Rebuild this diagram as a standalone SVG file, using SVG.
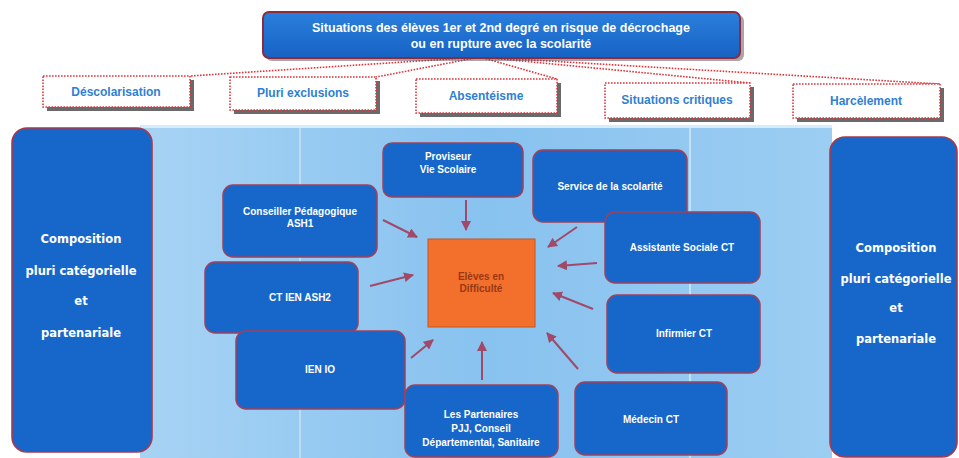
<svg xmlns="http://www.w3.org/2000/svg" width="959" height="458" viewBox="0 0 959 458">
<defs>
<linearGradient id="panel" x1="0" y1="0" x2="1" y2="0">
<stop offset="0" stop-color="#a7d3f4"/>
<stop offset="0.5" stop-color="#88c2ef"/>
<stop offset="1" stop-color="#9ccdf2"/>
</linearGradient>
<linearGradient id="titleg" x1="0" y1="0" x2="0" y2="1">
<stop offset="0" stop-color="#2b7fdc"/>
<stop offset="1" stop-color="#1662c4"/>
</linearGradient>
<marker id="arr" viewBox="0 0 10 10" refX="9" refY="5" markerWidth="5" markerHeight="5" orient="auto">
<path d="M0,0 L10,5 L0,10 z" fill="#a24868"/>
</marker>
<style>
.node{fill:#1766c9;stroke:#a0405a;stroke-width:1.5}
.side{fill:#1767cb;stroke:#a83a4c;stroke-width:1.6}
.cat{fill:#ffffff;stroke:#e0343a;stroke-width:1.6;stroke-dasharray:1.6 1.4}
.shadow{fill:#6a6a6a}
.ntxt{font-family:"Liberation Sans",Arial,sans-serif;font-weight:bold;font-size:10px;fill:#ffffff;text-anchor:middle}
.otxt{font-family:"Liberation Sans",Arial,sans-serif;font-weight:bold;font-size:10px;fill:#9a3814;text-anchor:middle}
.ctxt{font-family:"Liberation Sans",Arial,sans-serif;font-weight:bold;font-size:12px;fill:#2f7fd2;text-anchor:middle}
.stxt{font-family:"DejaVu Sans",Verdana,sans-serif;font-weight:bold;font-size:11.5px;fill:#ffffff;text-anchor:middle}
.ttxt{font-family:"Liberation Sans",Arial,sans-serif;font-weight:bold;font-size:12.5px;fill:#ffffff;text-anchor:middle}
.dot{stroke:#e0343a;stroke-width:1.6;stroke-dasharray:1.6 1.4;fill:none}
.arrow{stroke:#a24868;stroke-width:2;fill:none;marker-end:url(#arr)}
</style>
</defs>
<rect x="0" y="0" width="959" height="458" fill="#ffffff"/>
<rect x="140" y="125" width="692" height="333" fill="url(#panel)"/>
<rect x="140" y="125" width="692" height="3" fill="#d4ecfb"/>
<rect x="299" y="128" width="2" height="330" fill="#ffffff" opacity="0.35"/>
<rect x="689" y="128" width="2" height="330" fill="#ffffff" opacity="0.45"/>

<g id="connectors">
<line class="dot" x1="480" y1="57" x2="190" y2="76"/>
<line class="dot" x1="480" y1="57" x2="376" y2="77"/>
<line class="dot" x1="480" y1="57" x2="557" y2="79"/>
<line class="dot" x1="480" y1="57" x2="750" y2="83"/>
<line class="dot" x1="480" y1="57" x2="940" y2="84"/>
<line class="arrow" x1="466" y1="200" x2="466" y2="230"/>
<line class="arrow" x1="383" y1="220" x2="417" y2="237"/>
<line class="arrow" x1="370" y1="286" x2="413" y2="275"/>
<line class="arrow" x1="577" y1="227" x2="548" y2="247"/>
<line class="arrow" x1="597" y1="263" x2="558" y2="266"/>
<line class="arrow" x1="593" y1="309" x2="553" y2="293"/>
<line class="arrow" x1="578" y1="369" x2="547" y2="333"/>
<line class="arrow" x1="482" y1="380" x2="482" y2="342"/>
<line class="arrow" x1="411" y1="358" x2="433" y2="340"/>
</g>

<g id="title">
<rect x="266" y="15" width="478" height="46" rx="6" fill="#5a4a55" opacity="0.5"/>
<rect x="263" y="12" width="477" height="46" rx="6" fill="url(#titleg)" stroke="#8a2c3e" stroke-width="2"/>
<text class="ttxt" x="501" y="32">Situations des élèves 1er et 2nd degré en risque de décrochage</text>
<text class="ttxt" x="501" y="48">ou en rupture avec la scolarité</text>
</g>

<g id="cat-descolarisation">
<rect class="shadow" x="47" y="80" width="147" height="31"/>
<rect class="cat" x="43" y="76" width="147" height="31"/>
<text class="ctxt" x="116" y="96">Déscolarisation</text>
</g>
<g id="cat-pluri">
<rect class="shadow" x="234" y="81" width="146" height="33"/>
<rect class="cat" x="230" y="77" width="146" height="33"/>
<text class="ctxt" x="303" y="97">Pluri exclusions</text>
</g>
<g id="cat-absenteisme">
<rect class="shadow" x="420" y="83" width="141" height="34"/>
<rect class="cat" x="416" y="79" width="141" height="34"/>
<text class="ctxt" x="486" y="100">Absentéisme</text>
</g>
<g id="cat-situations">
<rect class="shadow" x="609" y="87" width="145" height="35"/>
<rect class="cat" x="605" y="83" width="145" height="35"/>
<text class="ctxt" x="677" y="104">Situations critiques</text>
</g>
<g id="cat-harcelement">
<rect class="shadow" x="797" y="88" width="147" height="34"/>
<rect class="cat" x="793" y="84" width="147" height="34"/>
<text class="ctxt" x="866" y="105">Harcèlement</text>
</g>

<g id="left-composition">
<rect class="side" x="12" y="128" width="140" height="324" rx="15"/>
<text class="stxt" x="81" y="243">Composition</text>
<text class="stxt" x="81" y="275">pluri catégorielle</text>
<text class="stxt" x="81" y="305">et</text>
<text class="stxt" x="81" y="337">partenariale</text>
</g>
<g id="right-composition">
<rect class="side" x="830" y="137" width="127" height="320" rx="15"/>
<text class="stxt" x="896" y="252">Composition</text>
<text class="stxt" x="896" y="283">pluri catégorielle</text>
<text class="stxt" x="896" y="312">et</text>
<text class="stxt" x="896" y="343">partenariale</text>
</g>

<g id="proviseur">
<rect class="node" x="383" y="143" width="140" height="54" rx="9"/>
<text class="ntxt" x="448" y="160">Proviseur</text>
<text class="ntxt" x="448" y="173">Vie Scolaire</text>
</g>
<g id="service">
<rect class="node" x="533" y="150" width="154" height="72" rx="10"/>
<text class="ntxt" x="610" y="190">Service de la scolarité</text>
</g>
<g id="conseiller">
<rect class="node" x="223" y="185" width="154" height="72" rx="10"/>
<text class="ntxt" x="300" y="215">Conseiller Pédagogique</text>
<text class="ntxt" x="300" y="227">ASH1</text>
</g>
<g id="assistante">
<rect class="node" x="605" y="212" width="155" height="71" rx="10"/>
<text class="ntxt" x="682" y="251">Assistante Sociale CT</text>
</g>
<g id="ctien">
<rect class="node" x="205" y="262" width="153" height="71" rx="10"/>
<text class="ntxt" x="300" y="301">CT IEN ASH2</text>
</g>
<g id="eleves">
<rect x="428" y="239" width="107" height="88" fill="#f2702c" stroke="#c8541e" stroke-width="1"/>
<text class="otxt" x="481" y="280">Elèves en</text>
<text class="otxt" x="481" y="292">Difficulté</text>
</g>
<g id="infirmier">
<rect class="node" x="607" y="295" width="153" height="78" rx="10"/>
<text class="ntxt" x="684" y="337">Infirmier CT</text>
</g>
<g id="ienio">
<rect class="node" x="236" y="331" width="169" height="78" rx="10"/>
<text class="ntxt" x="320" y="373">IEN IO</text>
</g>
<g id="partenaires">
<rect class="node" x="405" y="385" width="153" height="72" rx="10"/>
<text class="ntxt" x="481" y="418">Les Partenaires</text>
<text class="ntxt" x="481" y="432">PJJ, Conseil</text>
<text class="ntxt" x="481" y="446">Départemental, Sanitaire</text>
</g>
<g id="medecin">
<rect class="node" x="575" y="382" width="152" height="73" rx="10"/>
<text class="ntxt" x="651" y="423">Médecin CT</text>
</g>
</svg>
